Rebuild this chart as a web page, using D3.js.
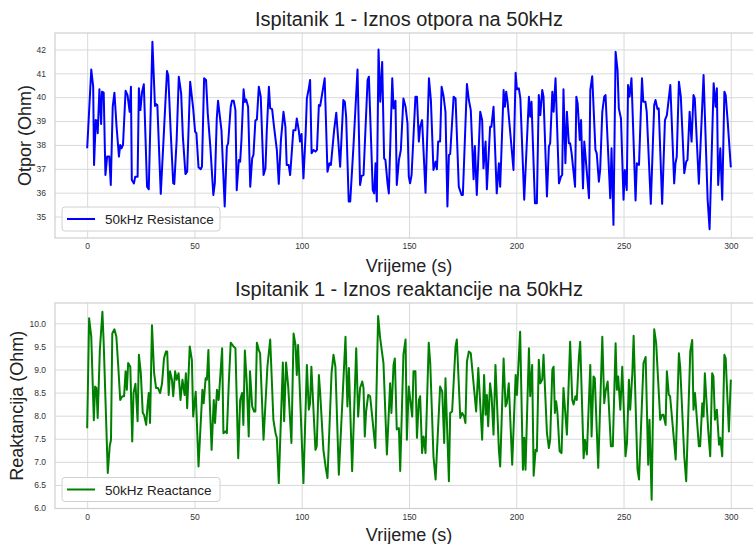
<!DOCTYPE html>
<html>
<head>
<meta charset="utf-8">
<script src="https://cdn.jsdelivr.net/npm/d3@7"></script>
<style>
  body { margin: 0; background: #fff; }
  svg { font-family: "Liberation Sans", Arial, sans-serif; }
  .grid line { stroke: #d9d9d9; stroke-width: 1; }
  .tick text { fill: #333; font-size: 8.5px; }
</style>
</head>
<body>
<div id="chart-area"></div>
<script>
// values: time (s) / value pairs of the vertices
const resTime = [0,1.9,2.8,3.2,4.0,4.6,4.9,5.7,6.5,6.9,7.7,8.5,9.3,10.3,11.0,11.9,12.7,13.7,14.8,15.4,16.0,16.7,17.9,18.8,19.8,20.4,20.8,21.8,22.4,23.5,24.1,24.8,25.6,26.4,27.9,28.7,30.4,31.6,32.1,32.7,34.3,35.8,37.2,37.8,38.9,40.1,40.6,41.7,42.7,43.8,44.6,45.8,46.6,48.0,49.4,50.3,50.9,51.9,52.9,53.5,54.5,55.4,56.2,57.4,58.8,59.5,60.4,61.0,62.6,64.1,65.1,65.7,66.9,67.5,68.3,69.1,69.7,70.7,71.3,71.9,72.9,73.5,74.1,75.0,76.0,76.9,77.5,78.4,79.1,80.0,80.9,82.2,83.1,83.7,84.7,85.3,86.2,87.1,88.4,89.3,90.3,91.5,92.4,93.0,93.9,94.6,96.1,97.1,97.7,98.6,99.2,99.9,100.8,101.8,102.4,103.3,103.9,104.6,105.5,106.4,107.1,108.0,108.6,110.7,112.0,112.9,113.6,115.1,116.1,117.9,119.4,120.1,120.7,121.9,122.6,124.1,126.0,127.2,127.9,128.8,130.7,131.3,133.1,133.8,134.4,135.0,135.8,136.6,137.5,138.4,139.0,140.0,140.6,142.2,142.8,143.7,144.3,145.3,146.2,147.4,148.4,149.3,149.9,150.5,151.2,153.0,153.7,154.6,155.2,156.1,157.7,159.3,160.2,161.4,162.4,163.0,163.6,164.5,165.2,166.1,167.0,167.9,168.6,169.2,170.8,171.7,173.2,174.5,175.1,177.0,177.9,178.8,180.1,180.7,181.6,183.2,184.1,184.7,185.7,186.3,187.8,188.4,189.4,190.9,191.9,192.5,194.1,194.7,195.3,195.9,198.7,199.7,200.3,201.2,201.9,203.7,205.9,206.5,207.1,208.7,209.6,210.5,211.2,212.1,212.7,214.3,215.2,215.8,216.8,217.4,218.3,219.9,220.8,221.4,222.0,222.9,223.6,224.5,225.1,225.8,227.4,228.0,228.6,229.6,230.2,231.1,231.7,233.9,234.5,235.4,236.9,237.5,238.5,239.1,240.1,241.0,241.6,243.8,244.4,245.3,246.3,247.2,247.8,248.8,250.0,250.6,251.5,252.1,252.8,253.7,255.6,256.2,257.2,258.6,259.2,260.2,260.8,262.7,264.3,264.9,265.8,266.4,268.0,269.3,270.2,271.8,273.6,274.2,274.8,275.8,276.7,278.3,279.2,279.8,280.8,281.7,282.6,283.2,285.1,287.3,289.2,290.1,292.0,292.9,293.5,294.1,295.1,296.0,297.0,297.6,298.5,300.0];
const resOhm = [37.86,41.16,40.44,37.16,39.04,39.02,38.49,40.33,38.88,40.23,40.19,36.74,37.51,37.51,36.32,39.60,40.19,38.76,37.51,38.00,37.86,38.00,40.27,40.09,39.39,40.44,36.53,36.39,36.67,36.67,40.37,39.46,40.23,40.54,36.25,36.14,42.32,39.63,39.71,39.67,35.95,38.60,41.10,40.90,38.60,36.40,36.37,38.20,40.86,40.16,38.35,36.78,36.88,40.65,39.53,38.56,38.49,37.06,36.98,37.09,40.79,40.72,39.32,37.93,35.90,36.40,39.10,39.85,38.60,35.42,37.93,38.07,39.60,39.85,39.85,39.46,36.10,37.37,37.30,38.20,40.33,39.80,39.90,39.60,36.25,37.44,37.58,39.02,39.07,40.44,40.02,36.74,37.02,38.56,40.44,39.53,39.50,38.76,37.79,36.37,38.20,39.39,38.76,37.16,37.16,36.74,38.62,38.62,39.11,38.62,38.14,38.46,36.60,38.42,39.95,40.37,40.72,37.65,37.79,37.72,37.79,39.67,39.63,40.79,36.88,37.23,37.16,38.62,39.35,37.09,39.88,39.80,39.18,35.63,35.63,37.93,41.16,36.32,36.70,36.74,40.72,40.86,36.11,35.97,37.23,35.63,42.00,39.81,41.48,37.44,37.37,36.39,35.97,40.79,39.53,39.85,36.32,37.37,37.79,39.95,39.60,38.90,36.67,36.39,36.74,40.02,40.02,38.14,38.76,39.04,36.00,40.79,39.88,36.95,37.30,36.98,38.14,38.14,40.44,40.05,39.39,35.42,37.58,37.62,40.02,39.95,36.25,35.90,35.90,40.55,39.88,39.46,36.56,37.96,35.90,39.39,39.04,37.02,38.14,36.14,38.76,38.76,39.60,35.97,37.23,36.25,40.30,39.60,40.23,39.85,36.95,41.02,40.33,40.37,39.95,35.70,40.02,39.18,39.81,35.56,35.56,40.09,39.25,40.30,40.02,35.84,37.93,38.07,40.23,39.39,40.79,36.39,36.67,36.74,40.33,37.23,39.39,38.07,38.07,37.65,36.25,40.02,39.74,38.21,39.04,36.18,38.14,35.77,40.30,40.88,37.79,37.65,36.46,36.95,39.39,40.02,40.09,35.77,37.86,34.65,41.90,41.14,39.53,39.11,35.70,36.95,36.11,40.51,40.02,40.79,35.67,37.23,37.16,40.79,39.81,39.81,39.39,35.53,39.67,39.88,39.50,39.53,35.53,39.04,39.25,40.51,36.39,37.23,37.51,40.65,40.02,36.81,37.30,37.37,39.39,38.14,40.09,39.95,36.37,40.93,35.70,34.47,40.58,39.60,40.37,36.32,37.86,35.70,40.23,40.09,39.04,37.06];

const reacTime = [0,0.9,1.9,3.1,3.7,4.3,4.9,5.9,7.1,7.7,9.6,10.5,11.1,11.7,12.7,13.6,14.5,15.4,16.4,17.2,17.9,18.5,19.1,20.1,21.0,21.6,22.5,23.5,24.1,25.0,25.9,26.5,27.5,28.1,28.7,29.3,30.2,31.2,32.1,33.0,34.0,34.9,35.8,36.7,37.3,38.0,38.6,39.5,40.1,41.0,41.7,42.6,43.5,44.4,45.4,46.0,46.6,47.8,48.8,49.4,50.6,51.9,53.7,54.3,55.2,55.8,56.5,57.1,58.0,59.0,59.6,60.5,61.3,62.9,63.5,64.5,65.1,66.0,66.9,68.2,69.1,70.4,71.3,72.2,72.8,73.5,74.4,75.3,75.9,76.9,77.8,78.4,79.1,80.0,80.6,82.2,84.0,85.3,86.8,87.8,88.4,89.3,91.2,91.8,92.7,93.7,95.2,96.2,97.1,97.7,98.3,100.8,102.4,103.3,103.9,104.5,106.4,107.0,108.0,108.6,110.1,111.1,112.0,113.9,114.8,115.7,117.3,120.4,121.3,122.0,123.5,125.4,126.3,127.2,128.2,128.8,129.4,130.0,131.0,131.9,134.3,135.6,136.5,138.1,139.7,141.2,141.8,142.8,143.4,144.3,145.3,145.9,147.4,148.4,149.0,149.9,150.5,151.5,152.1,153.0,153.7,154.6,155.2,156.1,156.8,157.7,159.2,159.9,161.4,162.4,164.5,165.5,166.4,167.0,168.6,169.2,170.1,171.7,172.3,173.9,174.8,175.7,176.3,177.0,177.9,178.8,181.3,182.3,184.1,185.0,185.7,186.3,186.9,187.8,188.5,189.4,190.3,191.9,192.5,194.1,195.0,195.6,196.5,198.1,199.7,200.3,201.8,203.1,203.7,204.3,205.9,206.5,207.4,208.1,209.0,209.6,210.5,211.2,212.1,212.7,214.3,215.2,215.8,216.8,217.4,218.0,218.6,219.2,220.2,221.1,222.0,223.6,225.1,226.1,226.7,227.6,228.2,229.2,229.8,231.4,232.0,232.9,234.5,235.1,236.0,236.6,238.2,240.1,241.0,241.6,242.6,244.1,245.0,246.3,246.9,247.5,248.5,249.4,250.9,251.6,252.5,253.1,254.1,254.7,256.5,257.2,259.3,260.3,261.5,262.1,263.1,264.3,265.2,267.1,268.0,268.6,269.6,270.2,271.1,271.7,274.3,275.8,276.4,278.3,279.2,281.1,282.0,282.6,283.3,285.1,285.7,286.7,287.3,287.9,289.5,290.4,291.3,291.9,292.6,293.5,294.5,295.1,296.0,297.0,297.6,299.1,300.0];
const reacOhm = [7.73,10.11,9.71,7.90,8.63,8.60,7.95,9.42,10.25,9.57,6.76,7.34,7.48,9.78,9.87,9.71,9.06,8.34,8.42,8.42,8.96,8.56,9.14,9.06,7.44,8.49,8.69,7.88,9.32,8.92,8.06,8.02,7.80,8.20,8.49,7.84,9.96,8.92,8.60,8.60,8.49,8.70,9.24,9.39,9.39,8.45,8.96,8.78,8.42,8.96,8.78,8.92,8.34,8.78,8.45,8.92,8.16,9.50,9.21,7.98,8.52,6.90,8.56,8.27,8.81,8.78,9.42,8.34,7.26,8.34,7.84,8.56,8.34,9.46,7.62,7.66,7.62,8.70,9.58,9.50,9.46,7.08,8.34,8.49,7.80,9.41,8.70,7.55,8.96,8.20,8.09,8.09,9.58,9.42,9.35,7.48,9.06,9.65,7.91,7.62,7.52,6.54,9.15,7.88,9.15,8.63,7.41,9.78,9.53,8.88,9.53,6.54,9.10,8.13,8.27,9.06,7.26,7.34,8.88,8.49,7.26,6.90,6.65,8.92,9.32,9.06,6.72,9.71,8.20,9.03,6.80,9.46,7.98,8.60,8.74,8.60,7.55,8.09,8.45,8.42,7.30,10.16,9.70,9.14,7.16,8.70,8.06,9.10,9.24,7.70,7.73,6.80,9.32,9.65,7.48,8.63,8.38,7.98,8.96,8.96,7.52,8.34,8.42,7.19,7.55,7.19,9.58,9.14,7.12,6.62,8.63,8.52,7.41,8.81,6.58,8.06,8.09,9.50,9.65,7.95,8.06,7.98,7.84,9.17,9.39,9.35,8.09,9.03,7.48,8.88,8.02,8.45,7.77,8.70,8.42,7.59,9.10,7.26,6.90,9.24,8.20,8.27,8.70,6.94,8.88,8.45,9.82,6.83,7.52,6.83,9.46,8.42,9.10,6.70,7.26,7.23,9.21,8.70,8.78,9.32,7.62,7.30,7.48,8.99,9.06,8.06,8.31,8.06,7.23,7.19,8.60,7.59,9.60,8.34,8.24,8.42,8.34,9.28,9.60,7.08,7.48,7.16,9.10,7.55,8.85,8.81,6.87,9.71,8.27,8.52,8.74,7.34,7.34,9.57,8.56,8.85,8.13,9.06,7.12,7.41,8.78,8.13,8.92,9.73,6.83,6.62,9.14,9.27,6.94,7.91,6.18,9.87,9.57,7.91,8.02,8.02,7.80,8.96,8.45,8.42,7.05,9.35,9.06,7.12,6.58,9.39,9.64,8.13,8.49,7.34,7.34,8.27,7.98,8.92,7.66,7.12,8.92,8.85,7.91,8.13,7.37,7.52,7.12,9.32,9.24,7.66,8.78];

const timeTicks = [0, 50, 100, 150, 200, 250, 300];
const resTicks = [35, 36, 37, 38, 39, 40, 41, 42];
const reacTicks = [6.0, 6.5, 7.0, 7.5, 8.0, 8.5, 9.0, 9.5, 10.0];

const panels = [
  {title: "Ispitanik 1 - Iznos otpora na 50kHz", ylabel: "Otpor (Ohm)", legend: "50kHz Resistance",
   t: resTime, v: resOhm, color: "#0000ff", ticks: resTicks, fmt: d3.format("d"),
   top: 33, bottom: 238, domain: [34.10, 42.69], ylabelX: 25, xlabelY: 272},
  {title: "Ispitanik 1 - Iznos reaktancije na 50kHz", ylabel: "Reaktancija (Ohm)", legend: "50kHz Reactance",
   t: reacTime, v: reacOhm, color: "#008000", ticks: reacTicks, fmt: d3.format(".1f"),
   top: 303, bottom: 508.5, domain: [5.99, 10.44], ylabelX: 17, xlabelY: 541}
];

const width = 753, height = 544;
const left = 55, right = 763;

const svg = d3.select("#chart-area").append("svg")
    .attr("width", width)
    .attr("height", height);

const x = d3.scaleLinear().domain([-15, 315]).range([left, right]);

panels.forEach(p => {
  const y = d3.scaleLinear().domain(p.domain).range([p.bottom, p.top]);
  const h = p.bottom - p.top;
  const g = svg.append("g");

  // grid
  g.append("g")
      .attr("class", "grid")
      .attr("transform", "translate(0," + p.bottom + ")")
      .call(d3.axisBottom(x).tickValues(timeTicks).tickSize(-h).tickFormat(""))
      .call(s => s.select(".domain").remove());
  g.append("g")
      .attr("class", "grid")
      .attr("transform", "translate(" + left + ",0)")
      .call(d3.axisLeft(y).tickValues(p.ticks).tickSize(-(right - left)).tickFormat(""))
      .call(s => s.select(".domain").remove());

  // tick labels
  g.append("g")
      .attr("transform", "translate(0," + p.bottom + ")")
      .call(d3.axisBottom(x).tickValues(timeTicks).tickSize(0).tickPadding(5))
      .call(s => s.select(".domain").remove());
  g.append("g")
      .attr("transform", "translate(" + left + ",0)")
      .call(d3.axisLeft(y).tickValues(p.ticks).tickSize(0).tickPadding(9).tickFormat(p.fmt))
      .call(s => s.select(".domain").remove());

  // frame
  g.append("rect")
      .attr("x", left).attr("y", p.top)
      .attr("width", right - left).attr("height", h)
      .attr("fill", "none")
      .attr("stroke", "#cfcfcf")
      .attr("stroke-width", 1.2);

  // line
  const pts = p.t.map((t, i) => [t, p.v[i]]);
  g.append("path")
      .datum(pts)
      .attr("fill", "none")
      .attr("stroke", p.color)
      .attr("stroke-width", 2)
      .attr("stroke-linejoin", "round")
      .attr("d", d3.line().x(d => x(d[0])).y(d => y(d[1])));

  // title + labels
  g.append("text")
      .attr("x", (left + right) / 2)
      .attr("y", p.top - 7)
      .attr("text-anchor", "middle")
      .attr("font-size", "20px")
      .attr("fill", "#222")
      .text(p.title);
  g.append("text")
      .attr("x", (left + right) / 2)
      .attr("y", p.xlabelY)
      .attr("text-anchor", "middle")
      .attr("font-size", "18px")
      .attr("fill", "#222")
      .text("Vrijeme (s)");
  g.append("text")
      .attr("transform", "rotate(-90)")
      .attr("x", -(p.top + p.bottom) / 2)
      .attr("y", p.ylabelX + 6)
      .attr("text-anchor", "middle")
      .attr("font-size", "18px")
      .attr("fill", "#222")
      .text(p.ylabel);

  // legend
  const lg = g.append("g").attr("transform", "translate(62," + (p.bottom - 31) + ")");
  lg.append("rect")
      .attr("width", 158).attr("height", 24)
      .attr("rx", 3)
      .attr("fill", "#fff").attr("fill-opacity", 0.8)
      .attr("stroke", "#d0d0d0");
  lg.append("line")
      .attr("x1", 5).attr("x2", 33)
      .attr("y1", 12).attr("y2", 12)
      .attr("stroke", p.color).attr("stroke-width", 2);
  lg.append("text")
      .attr("x", 43).attr("y", 17)
      .attr("font-size", "13.5px")
      .attr("fill", "#222")
      .text(p.legend);
});
</script>
</body>
</html>
